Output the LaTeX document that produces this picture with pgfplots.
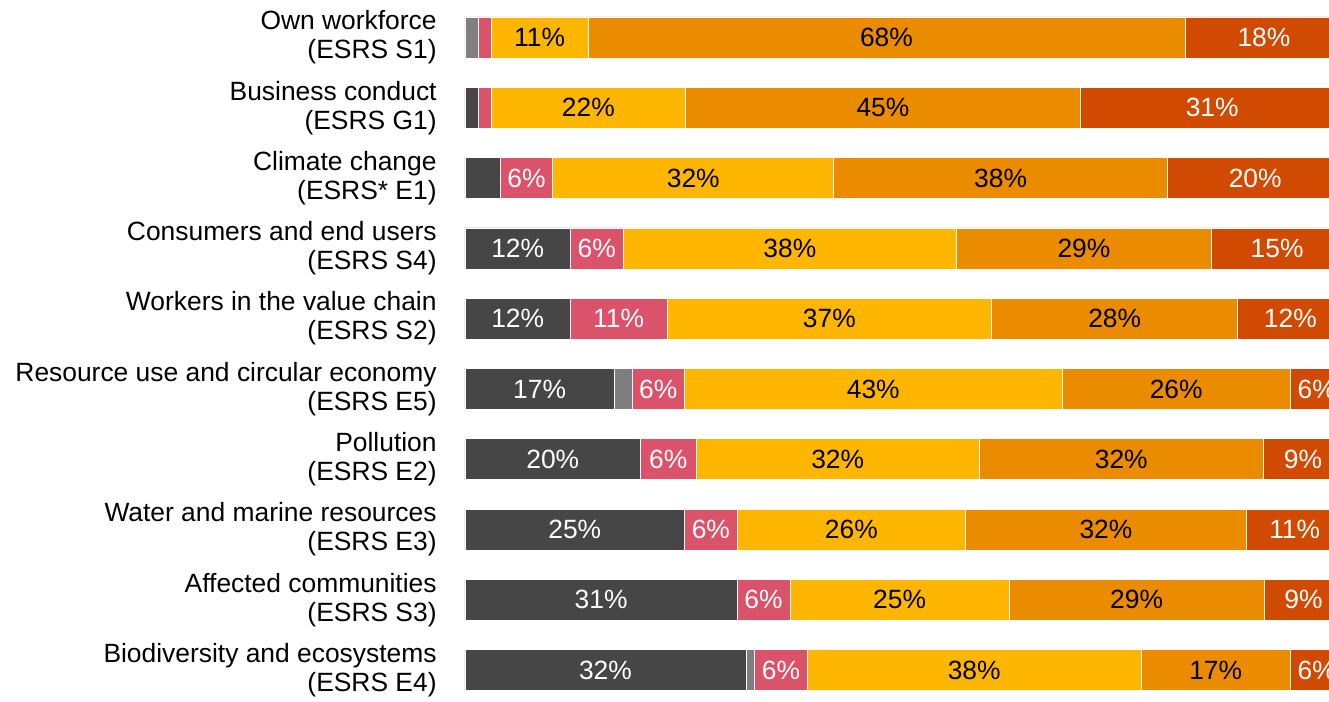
\documentclass[border=0pt]{standalone}
\usepackage{pgfplots}
\pgfplotsset{compat=1.18}
\usepackage{pgfplotstable}
\usepackage{fontspec}
\setmainfont{Liberation Sans}
\definecolor{cdg}{HTML}{464646}
\definecolor{cgr}{HTML}{7F7F7F}
\definecolor{cpk}{HTML}{DB536A}
\definecolor{cyl}{HTML}{FFB600}
\definecolor{cor}{HTML}{EB8C00}
\definecolor{cdo}{HTML}{D04A02}

\pgfplotstableread{
y val lab
0 0 {}
1 1.5 {}
2 4 {}
3 12 12\%
4 12 12\%
5 17 17\%
6 20 20\%
7 25 25\%
8 31 31\%
9 32 32\%
}\tdg
\pgfplotstableread{
y val lab
0 1.5 {}
1 0 {}
2 0 {}
3 0 {}
4 0 {}
5 2 {}
6 0 {}
7 0 {}
8 0 {}
9 1 {}
}\tgr
\pgfplotstableread{
y val lab
0 1.5 {}
1 1.5 {}
2 6 6\%
3 6 6\%
4 11 11\%
5 6 6\%
6 6.3 6\%
7 6 6\%
8 6 6\%
9 6 6\%
}\tpk
\pgfplotstableread{
y val lab
0 11 11\%
1 22.1 22\%
2 32 32\%
3 38 38\%
4 37 37\%
5 43 43\%
6 32.3 32\%
7 26 26\%
8 25 25\%
9 38 38\%
}\tyl
\pgfplotstableread{
y val lab
0 68 68\%
1 45 45\%
2 38 38\%
3 29 29\%
4 28 28\%
5 26 26\%
6 32.3 32\%
7 32 32\%
8 29 29\%
9 17 17\%
}\tor
\pgfplotstableread{
y val lab
0 18 18\%
1 30 31\%
2 20 20\%
3 15 15\%
4 12 12\%
5 6 6\%
6 9.1 9\%
7 11 11\%
8 9 9\%
9 6 6\%
}\tdo

\begin{document}
\begin{tikzpicture}
\begin{axis}[
  scale only axis,
  width=439pt, height=350.5pt,
  xbar stacked,
  bar width=20.5pt,
  xmin=0, xmax=100,
  ymin=-0.533, ymax=9.44,
  y dir=reverse,
  axis line style={draw=none},
  tick style={draw=none},
  xtick=\empty,
  clip=false,
  ytick={0,...,9},
  yticklabels={
    {Own workforce\\(ESRS S1)},
    {Business conduct\\(ESRS G1)},
    {Climate change\\(ESRS* E1)},
    {Consumers and end users\\(ESRS S4)},
    {Workers in the value chain\\(ESRS S2)},
    {Resource use and circular economy\\(ESRS E5)},
    {Pollution\\(ESRS E2)},
    {Water and marine resources\\(ESRS E3)},
    {Affected communities\\(ESRS S3)},
    {Biodiversity and ecosystems\\(ESRS E4)}},
  yticklabel style={align=right, inner sep=0pt, xshift=-14pt,
    font=\fontsize{13.2}{14.5}\selectfont},
  major tick length=0pt,
  point meta=explicit symbolic,
  nodes near coords={\pgfplotspointmeta},
  every node near coord/.append style={font=\fontsize{13.2}{14.5}\selectfont},
  /pgf/number format/assume math mode=true,
]
\addplot[fill=cdg, draw=white, line width=0.3pt, every node near coord/.append style={text=white}] table[x=val, y=y, meta=lab]{\tdg};
\addplot[fill=cgr, draw=white, line width=0.3pt] table[x=val, y=y, meta=lab]{\tgr};
\addplot[fill=cpk, draw=white, line width=0.3pt, every node near coord/.append style={text=white}] table[x=val, y=y, meta=lab]{\tpk};
\addplot[fill=cyl, draw=white, line width=0.3pt, every node near coord/.append style={text=black}] table[x=val, y=y, meta=lab]{\tyl};
\addplot[fill=cor, draw=white, line width=0.3pt, every node near coord/.append style={text=black}] table[x=val, y=y, meta=lab]{\tor};
\addplot[fill=cdo, draw=white, line width=0.3pt, every node near coord/.append style={text=white}] table[x=val, y=y, meta=lab]{\tdo};
\end{axis}
\pgfresetboundingbox
\path[use as bounding box] ([xshift=-232.5pt]current axis.south west) rectangle ([xshift=-7pt]current axis.north east);
\end{tikzpicture}
\end{document}
